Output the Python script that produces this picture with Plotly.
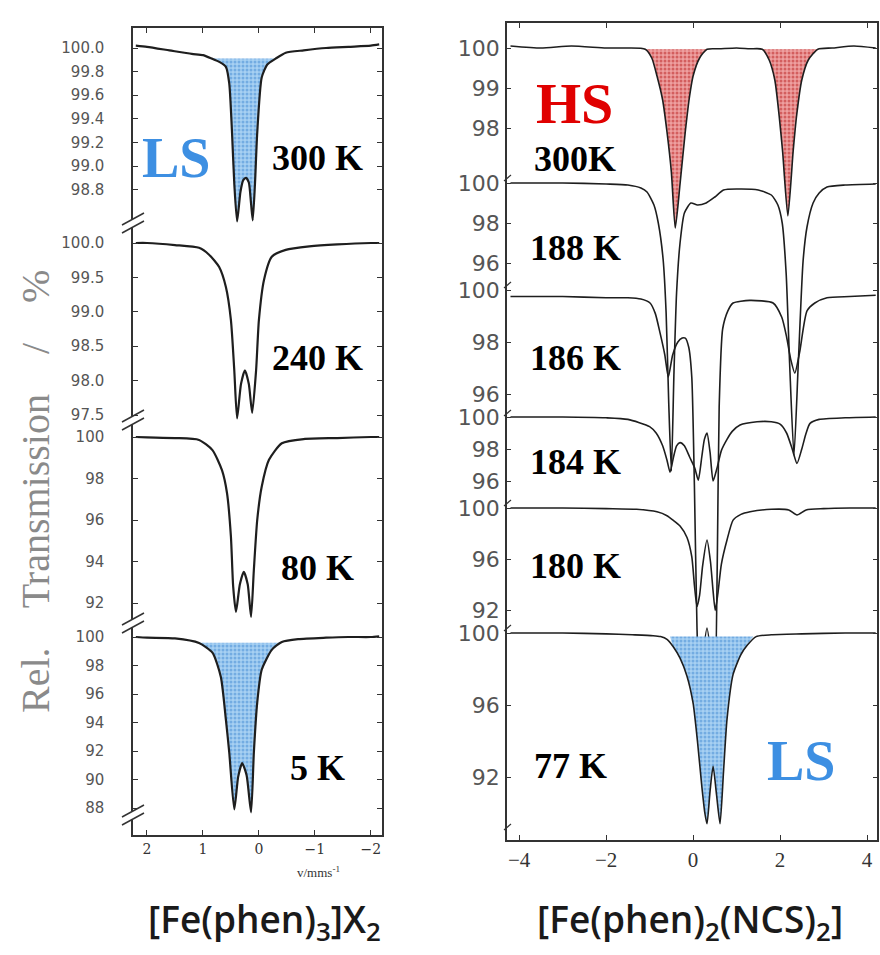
import plotly.graph_objects as go

# ---------------- data ----------------
# Left panel: [Fe(phen)3]X2, velocity in mm/s (axis reversed)
L300_x = [2.2, 2.0, 1.6, 1.2, 1.0, 0.84, 0.7, 0.59, 0.53, 0.48, 0.44, 0.39, 0.33, 0.28, 0.23, 0.18, 0.14, 0.11, 0.07, 0.03, -0.05, -0.15, -0.3, -0.48, -0.8, -1.2, -1.6, -2.0, -2.15]
L300_y = [100.02, 100.01, 99.98, 99.95, 99.94, 99.91, 99.88, 99.84, 99.7, 99.28, 98.85, 98.53, 98.78, 98.88, 98.9, 98.86, 98.68, 98.54, 98.85, 99.28, 99.75, 99.86, 99.91, 99.96, 99.98, 100.0, 100.01, 100.02, 100.03]

L240_x = [2.2, 2.0, 1.5, 1.07, 0.89, 0.71, 0.59, 0.5, 0.44, 0.39, 0.32, 0.25, 0.18, 0.12, 0.05, 0.0, -0.09, -0.23, -0.48, -0.9, -1.4, -2.0, -2.15]
L240_y = [100.0, 100.0, 99.97, 99.93, 99.83, 99.65, 99.36, 98.88, 98.15, 97.45, 97.95, 98.15, 97.95, 97.53, 98.15, 98.88, 99.46, 99.8, 99.9, 99.95, 99.98, 100.0, 100.0]

L80_x = [2.2, 2.0, 1.5, 1.07, 0.83, 0.66, 0.57, 0.5, 0.46, 0.41, 0.34, 0.27, 0.2, 0.14, 0.09, 0.03, -0.05, -0.18, -0.41, -0.8, -1.4, -2.0, -2.15]
L80_y = [100.0, 99.98, 99.95, 99.86, 99.37, 98.4, 97.3, 95.2, 92.8, 91.57, 92.9, 93.5, 92.9, 91.33, 93.6, 96.0, 97.6, 98.9, 99.7, 99.9, 99.95, 100.0, 100.0]

L5_x = [2.2, 2.0, 1.5, 1.07, 0.83, 0.68, 0.59, 0.53, 0.44, 0.37, 0.3, 0.22, 0.14, 0.09, 0.03, -0.05, -0.23, -0.41, -0.7, -1.2, -1.6, -2.0, -2.15]
L5_y = [100.0, 99.95, 99.9, 99.58, 98.9, 97.2, 94.2, 91.9, 87.9, 90.2, 91.15, 90.3, 87.7, 91.9, 95.4, 97.7, 99.1, 99.65, 99.85, 99.95, 100.0, 100.0, 100.05]

# Right panel: [Fe(phen)2(NCS)2]
R300_x = [-4.2, -3.5, -2.8, -2.0, -1.5, -1.1, -0.95, -0.83, -0.7, -0.6, -0.5, -0.41, -0.3, -0.18, -0.08, 0.0, 0.15, 0.32, 0.6, 1.0, 1.3, 1.59, 1.75, 1.88, 1.98, 2.06, 2.18, 2.3, 2.38, 2.5, 2.65, 2.87, 3.2, 3.7, 4.2]
R300_y = [100.05, 100.0, 100.05, 100.0, 100.0, 99.97, 99.75, 99.3, 98.7, 97.9, 96.9, 95.5, 96.6, 97.9, 98.8, 99.3, 99.75, 99.97, 99.98, 100.0, 99.98, 99.97, 99.7, 99.2, 98.3, 97.4, 95.8, 97.4, 98.3, 99.2, 99.7, 99.97, 100.0, 100.05, 100.0]

R188_x = [-4.2, -3.0, -2.0, -1.5, -1.2, -1.06, -0.9, -0.8, -0.69, -0.62, -0.56, -0.5, -0.44, -0.38, -0.3, -0.2, -0.05, 0.1, 0.3, 0.5, 0.7, 1.0, 1.5, 1.8, 1.95, 2.05, 2.14, 2.22, 2.32, 2.42, 2.53, 2.62, 2.76, 2.9, 3.08, 3.5, 4.2]
R188_y = [100.0, 100.0, 99.95, 99.9, 99.75, 99.55, 98.9, 98.0, 96.2, 93.5, 89.0, 85.6, 90.5, 94.5, 97.0, 98.5, 99.0, 98.9, 99.0, 99.3, 99.65, 99.7, 99.65, 99.4, 98.9, 98.0, 95.5, 91.0, 86.4, 91.0, 96.1, 97.8, 99.0, 99.5, 99.8, 99.9, 99.95]

R186_x = [-4.2, -3.0, -2.0, -1.5, -1.2, -0.99, -0.87, -0.76, -0.65, -0.57, -0.47, -0.35, -0.25, -0.18, -0.1, -0.03, 0.03, 0.09, 0.15, 0.22, 0.32, 0.42, 0.5, 0.56, 0.6, 0.68, 0.8, 0.92, 1.3, 1.84, 2.04, 2.15, 2.25, 2.34, 2.45, 2.62, 2.8, 3.08, 3.6, 4.2]
R186_y = [99.75, 99.75, 99.7, 99.7, 99.65, 99.5, 99.1, 98.35, 97.5, 96.65, 97.5, 98.0, 98.15, 98.15, 97.8, 96.65, 92.5, 87.0, 84.3, 85.8, 87.0, 85.8, 84.3, 90.0, 95.5, 98.5, 99.2, 99.5, 99.6, 99.5, 98.95, 98.2, 97.3, 96.8, 97.6, 99.2, 99.5, 99.7, 99.75, 99.8]

R184_x = [-4.2, -3.0, -2.0, -1.5, -1.0, -0.85, -0.7, -0.6, -0.53, -0.45, -0.38, -0.3, -0.2, -0.08, 0.04, 0.12, 0.2, 0.26, 0.32, 0.39, 0.46, 0.55, 0.65, 0.78, 0.9, 1.08, 1.47, 1.8, 2.0, 2.15, 2.28, 2.39, 2.5, 2.6, 2.69, 2.9, 3.5, 4.2]
R184_y = [100.0, 100.0, 99.95, 99.85, 99.4, 99.0, 98.2, 97.3, 96.55, 97.5, 98.2, 98.4, 98.2, 97.5, 96.8, 96.05, 97.5, 98.6, 99.0, 97.8, 96.0, 96.8, 97.9, 98.6, 99.1, 99.5, 99.7, 99.7, 99.55, 99.0, 98.0, 97.1, 98.0, 99.0, 99.6, 99.85, 99.95, 100.0]

R180_x = [-4.2, -3.0, -2.0, -1.3, -0.83, -0.6, -0.46, -0.3, -0.14, -0.03, 0.03, 0.09, 0.15, 0.22, 0.32, 0.4, 0.46, 0.51, 0.57, 0.65, 0.78, 0.92, 1.1, 1.31, 1.8, 2.2, 2.39, 2.6, 3.0, 3.6, 4.2]
R180_y = [100.0, 100.0, 99.95, 99.9, 99.7, 99.4, 99.05, 98.6, 97.7, 96.2, 94.0, 92.3, 93.2, 95.5, 97.5, 95.8, 93.5, 92.0, 93.3, 95.6, 97.5, 99.05, 99.5, 99.7, 99.9, 99.85, 99.45, 99.85, 99.95, 100.0, 100.0]

R77_x = [-4.2, -3.0, -2.0, -1.4, -0.92, -0.75, -0.6, -0.46, -0.3, -0.14, 0.0, 0.1, 0.2, 0.27, 0.32, 0.39, 0.46, 0.54, 0.62, 0.7, 0.78, 0.92, 1.1, 1.24, 1.45, 1.8, 2.5, 3.5, 4.2]
R77_y = [100.0, 100.0, 99.95, 99.9, 99.85, 99.8, 99.65, 99.25, 98.6, 97.6, 96.1, 94.0, 91.5, 90.0, 89.4, 91.2, 92.6, 91.0, 89.4, 92.3, 95.2, 97.7, 98.8, 99.3, 99.8, 99.9, 99.95, 100.0, 100.0]

# tick values of each stacked spectrum
L_ticks = [[100.0, 99.8, 99.6, 99.4, 99.2, 99.0, 98.8],
           [100.0, 99.5, 99.0, 98.5, 98.0, 97.5],
           [100, 98, 96, 94, 92],
           [100, 98, 96, 94, 92, 90, 88]]
R_ticks = [[100, 99, 98], [100, 98, 96], [100, 98, 96], [100, 98, 96], [100, 96, 92], [100, 96, 92]]
L_labels = ["300 K", "240 K", "80 K", "5 K"]
R_labels = ["300K", "188 K", "186 K", "184 K", "180 K", "77 K"]

# ---------------- layout geometry (pixels of the 880x955 page) ----------------
W, H = 880, 955
def px(x): return x / W
def py(y): return 1 - y / H

L_box = dict(x0=133, x1=382, top=28, bottom=835)
R_box = dict(x0=507, x1=877, top=23, bottom=840)
# (pixel row of 100 %, pixels per 1 %) for each stacked spectrum
L_geo = [(48, 118.0), (243, 68.8), (437, 20.75), (637, 14.25)]
R_geo = [(48, 40.0), (183, 20.0), (290, 26.0), (417, 16.0), (508, 12.8), (633, 18.0)]
L_label_y = [158, 358, 568, 768]
R_label_y = [159, 248, 358, 462, 566, 766]

def yrange(p100, s, box):
    return [100 - (box["bottom"] - p100) / s, 100 + (p100 - box["top"]) / s]

LINE = "#1e1e1e"
AX = "#333333"
fig = go.Figure()

def fill_poly(xs, ys, xa, xb, lvl):
    lo, hi = min(xa, xb), max(xa, xb)
    sx = [x for x in xs if lo < x < hi]
    sy = [y for x, y in zip(xs, ys) if lo < x < hi]
    if xs[0] > xs[-1]:
        return [hi] + sx + [lo], [lvl] + sy + [lvl]
    return [lo] + sx + [hi], [lvl] + sy + [lvl]

BLUE_PAT = dict(shape=".", bgcolor="#a7d0f2", fgcolor="#3f88d2", size=4, solidity=0.45)
RED_PAT = dict(shape=".", bgcolor="#eea0a0", fgcolor="#b81c1c", size=4, solidity=0.45)

fills = [
    (L300_x, L300_y, 0.84, -0.3, 99.91, "x", "y", BLUE_PAT),
    (L5_x, L5_y, 1.07, -0.41, 99.6, "x", "y4", BLUE_PAT),
    (R300_x, R300_y, -1.1, 0.32, 99.97, "x2", "y5", RED_PAT),
    (R300_x, R300_y, 1.59, 2.87, 99.97, "x2", "y5", RED_PAT),
    (R77_x, R77_y, -0.53, 1.38, 99.8, "x2", "y10", BLUE_PAT),
]
for xs, ys, xa, xb, lvl, xr, yr, pat in fills:
    fx, fy = fill_poly(xs, ys, xa, xb, lvl)
    fig.add_trace(go.Scatter(x=fx, y=fy, xaxis=xr, yaxis=yr, mode="lines",
                             fill="toself", fillpattern=pat,
                             line=dict(width=0, shape="spline", smoothing=0.6),
                             hoverinfo="skip", showlegend=False))

left_series = [(L300_x, L300_y), (L240_x, L240_y), (L80_x, L80_y), (L5_x, L5_y)]
right_series = [(R300_x, R300_y), (R188_x, R188_y), (R186_x, R186_y),
                (R184_x, R184_y), (R180_x, R180_y), (R77_x, R77_y)]
for i, (xs, ys) in enumerate(left_series):
    fig.add_trace(go.Scatter(x=xs, y=ys, xaxis="x", yaxis="y" if i == 0 else f"y{i+1}",
                             mode="lines", line=dict(color=LINE, width=2.2, shape="spline", smoothing=0.6),
                             showlegend=False))
for i, (xs, ys) in enumerate(right_series):
    fig.add_trace(go.Scatter(x=xs, y=ys, xaxis="x2", yaxis=f"y{i+5}",
                             mode="lines", line=dict(color=LINE, width=1.6, shape="spline", smoothing=0.6),
                             showlegend=False))

layout = dict(
    width=W, height=H, margin=dict(l=0, r=0, t=0, b=0),
    paper_bgcolor="white", plot_bgcolor="rgba(0,0,0,0)", showlegend=False,
)
common = dict(showgrid=False, zeroline=False, showline=True, mirror="ticks",
              ticks="inside", linecolor=AX, linewidth=1.5, tickcolor=AX)
layout["xaxis"] = dict(common, domain=[px(L_box["x0"]), px(L_box["x1"])], range=[2.25, -2.2],
                       anchor="y", tickvals=[2, 1, 0, -1, -2], ticktext=["2", "1", "0", "\u22121", "\u22122"],
                       ticklen=5, tickfont=dict(family="DejaVu Serif", size=14, color="#333"))
layout["xaxis2"] = dict(common, domain=[px(R_box["x0"]), px(R_box["x1"])], range=[-4.28, 4.23],
                        anchor="y5", tickvals=[-4, -2, 0, 2, 4],
                        ticktext=["\u22124", "\u22122", "0", "2", "4"], ticklen=5,
                        tickfont=dict(family="Liberation Serif", size=21, color="#333"))
for i, (p100, s) in enumerate(L_geo):
    name = "yaxis" if i == 0 else f"yaxis{i+1}"
    tv = L_ticks[i]
    fmt = [f"{v:.1f}" for v in tv] if i < 2 else [f"{v:g}" for v in tv]
    ax = dict(common, domain=[py(L_box["bottom"]), py(L_box["top"])], range=yrange(p100, s, L_box),
              anchor="x", tickvals=tv, ticktext=fmt, ticklen=5, ticklabelstandoff=24,
              tickfont=dict(family="DejaVu Sans", size=15, color="#555"))
    if i > 0:
        ax["overlaying"] = "y"
    layout[name] = ax
for i, (p100, s) in enumerate(R_geo):
    name = f"yaxis{i+5}"
    tv = R_ticks[i]
    ax = dict(common, domain=[py(R_box["bottom"]), py(R_box["top"])], range=yrange(p100, s, R_box),
              anchor="x2", tickvals=tv, ticktext=[str(v) for v in tv], ticklen=4, ticklabelstandoff=1,
              tickfont=dict(family="DejaVu Sans", size=22, color="#555"))
    if i > 0:
        ax["overlaying"] = "y5"
    layout[name] = ax
fig.update_layout(**layout)

# ---------------- annotations ----------------
ann = []
def add_text(text, x, y, size, color="black", family="Liberation Serif", weight="bold", angle=0):
    ann.append(dict(text=text, x=px(x), y=py(y), xref="paper", yref="paper", showarrow=False,
                    xanchor="center", yanchor="middle", textangle=angle,
                    font=dict(family=family, size=size, color=color, weight=weight)))

for lab, yy in zip(L_labels, L_label_y):
    add_text(lab, 317, yy, 36)
for lab, yy in zip(R_labels, R_label_y):
    add_text(lab, 575 if lab != "77 K" else 570, yy, 36)
add_text("LS", 176, 158, 56, color="#3d8fe2")
add_text("HS", 574, 104, 58, color="#e00000")
add_text("LS", 801, 761, 56, color="#3d8fe2")
add_text("Rel.    Transmission    /    %", 35, 492, 40, color="#8a8a8a", weight="normal", angle=-90)
add_text("v/mms<sup>-1</sup>", 318, 872, 13, color="#333", weight="normal")
add_text("[Fe(phen)<sub>3</sub>]X<sub>2</sub>", 264, 921, 37, color="#1a1a1a", family="Open Sans", weight=600)
add_text("[Fe(phen)<sub>2</sub>(NCS)<sub>2</sub>]", 690, 921, 37, color="#1a1a1a", family="Open Sans", weight=600)
fig.update_layout(annotations=ann)

# ---------------- axis-break marks ----------------
shapes = []
for yb in [223, 420, 623, 815]:
    shapes.append(dict(type="rect", xref="paper", yref="paper", x0=px(130), x1=px(136),
                       y0=py(yb + 4), y1=py(yb - 4), line=dict(width=0), fillcolor="white", layer="above"))
    for dy in (-4, 4):
        shapes.append(dict(type="line", xref="paper", yref="paper",
                           x0=px(122), y0=py(yb + dy + 6), x1=px(144), y1=py(yb + dy - 6),
                           line=dict(color=AX, width=1.5), layer="above"))
for yb in [178, 285, 413, 503, 628, 827]:
    shapes.append(dict(type="line", xref="paper", yref="paper",
                       x0=px(504), y0=py(yb + 3), x1=px(511), y1=py(yb - 3),
                       line=dict(color=AX, width=1.2), layer="above"))
fig.update_layout(shapes=shapes)

fig.write_html("out.html")
